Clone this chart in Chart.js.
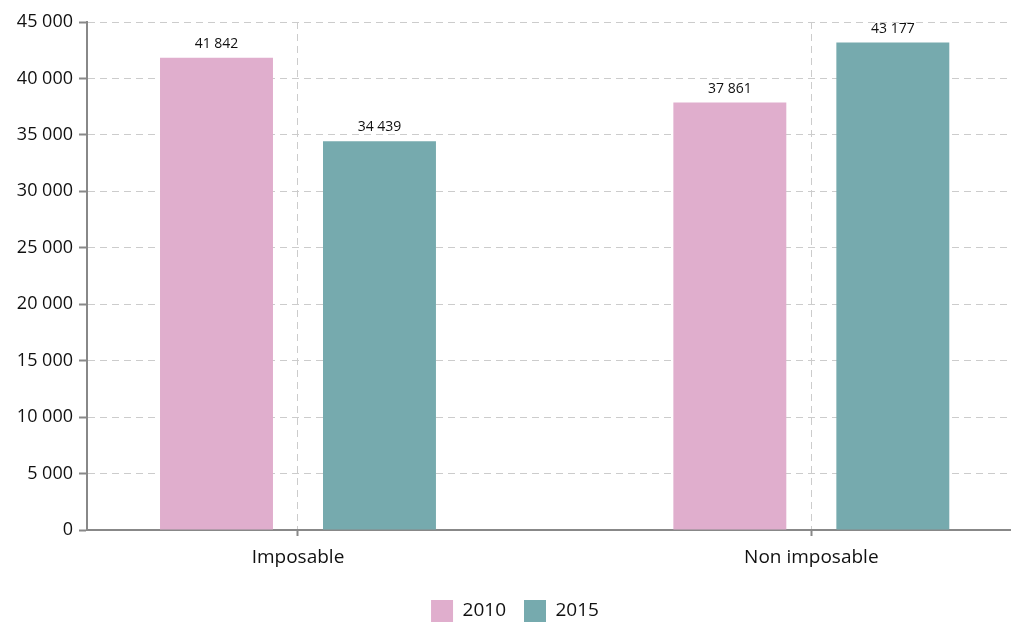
<!DOCTYPE html>
<html>
<head>
<meta charset="utf-8">
<script src="https://cdn.jsdelivr.net/npm/chart.js@4/dist/chart.umd.min.js"></script>
<style>
  html, body { margin: 0; padding: 0; background: #fff; }
  #wrap { width: 1017px; height: 622px; }
</style>
</head>
<body>
<div id="wrap"><canvas id="myChart"></canvas></div>
<script>
  // Data
  const categories = ['Imposable', 'Non imposable']
  const years = ['2010', '2015']
  const values2010 = [41842, 37861]
  const values2015 = [34439, 43177]
  const yTicks = [0, 5000, 10000, 15000, 20000, 25000, 30000, 35000, 40000, 45000]

  const fmt = v => String(v).replace(/\B(?=(\d{3})+(?!\d))/g, ' ')
  const font = '"Open Sans", "Noto Sans", sans-serif'

  // Value labels on top of each bar
  const barLabels = {
    id: 'barLabels',
    afterDatasetsDraw (chart) {
      const ctx = chart.ctx
      ctx.save()
      ctx.font = '14px ' + font
      ctx.fillStyle = '#111'
      ctx.textAlign = 'center'
      ctx.textBaseline = 'bottom'
      chart.data.datasets.forEach((ds, i) => {
        chart.getDatasetMeta(i).data.forEach((bar, j) => {
          ctx.fillText(fmt(ds.data[j]), bar.x, bar.y - 7)
        })
      })
      ctx.restore()
    }
  }

  // the legend sits a little right of the canvas centre
  const legendShift = {
    id: 'legendShift',
    afterLayout (chart) {
      chart.legend.left += 10
      chart.legend.right += 10
    }
  }

  const ctx = document.getElementById('myChart')
  // eslint-disable-next-line no-unused-vars
  const myChart = new Chart(ctx, {
    type: 'bar',
    data: {
      labels: categories.map((c, i) => i),
      datasets: [
        {
          label: years[0],
          data: values2010,
          backgroundColor: '#e0aecd'
        },
        {
          label: years[1],
          data: values2015,
          backgroundColor: '#76aaae'
        }
      ]
    },
    options: {
      responsive: true,
      maintainAspectRatio: false,
      animation: false,
      categoryPercentage: 0.635,
      barPercentage: 0.693,
      layout: { padding: { top: 22, right: 7, left: 0, bottom: -10 } },
      scales: {
        x: {
          type: 'linear',
          offset: false,
          min: -0.411,
          max: 1.387,
          afterBuildTicks: s => { s.ticks = [{ value: 0 }, { value: 1 }] },
          afterFit: s => { s.height = 52 },
          ticks: {
            callback: v => categories[v],
            color: '#111',
            font: { family: font, size: 19 },
            padding: 10
          },
          grid: {
            offset: false,
            color: '#cccccc',
            lineWidth: 1,
            tickColor: '#888',
            tickWidth: 2,
            tickLength: 6
          },
          border: { color: '#888', width: 2, dash: [7, 5] }
        },
        y: {
          min: 0,
          max: 45000,
          afterBuildTicks: s => { s.ticks = yTicks.map(v => ({ value: v })) },
          afterFit: s => { s.width = 87 },
          ticks: {
            callback: v => fmt(v),
            color: '#111',
            font: { family: font, size: 18 },
            padding: 6
          },
          grid: {
            color: '#cccccc',
            lineWidth: 1,
            tickColor: '#888',
            tickWidth: 2,
            tickLength: 8
          },
          border: { color: '#888', width: 2, dash: [7, 5] }
        }
      },
      plugins: {
        legend: {
          position: 'bottom',
          labels: {
            boxWidth: 22,
            boxHeight: 22,
            padding: 18,
            color: '#111',
            font: { family: font, size: 19 }
          }
        },
        tooltip: { enabled: false }
      }
    },
    plugins: [barLabels, legendShift]
  })
</script>
</body>
</html>
